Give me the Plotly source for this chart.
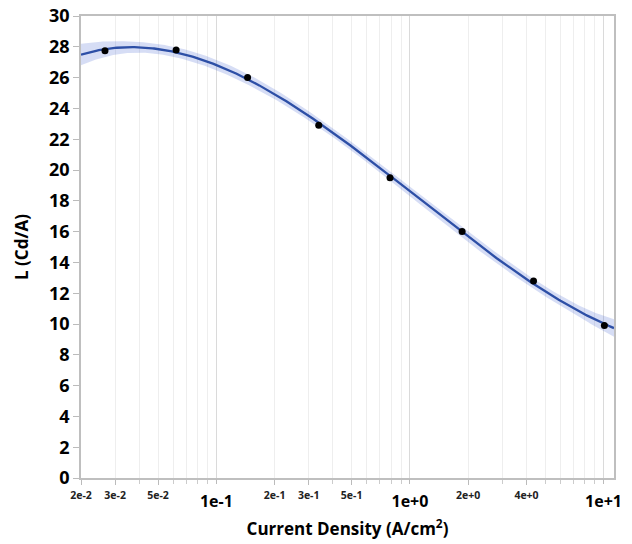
import numpy as np
import plotly.graph_objects as go

# Data
current_density = [0.0266, 0.062, 0.145, 0.338, 0.789, 1.86, 4.35, 10.1]
efficiency = [27.75, 27.8, 26.0, 22.9, 19.5, 16.0, 12.8, 9.9]

minor_tick_vals = [0.02, 0.03, 0.05, 0.2, 0.3, 0.5, 2, 4]
minor_tick_text = ["2e-2", "3e-2", "5e-2", "2e-1", "3e-1", "5e-1", "2e+0", "4e+0"]
major_tick_vals = [0.1, 1, 10]
major_tick_text = ["1e-1", "1e+0", "1e+1"]
y_ticks = list(range(0, 31, 2))

x_range_log = [np.log10(0.02), 1.054]

# cubic fit in log10(x) with 95% confidence band of the mean
lx = np.log10(current_density)
yv = np.array(efficiency)
deg = 3
X = np.vander(lx, deg + 1)
coef, res, rank, sv = np.linalg.lstsq(X, yv, rcond=None)
resid = yv - X @ coef
dof = len(yv) - (deg + 1)
s2 = (resid @ resid) / dof
cov = s2 * np.linalg.inv(X.T @ X)
t_val = 2.776
xs_log = np.linspace(x_range_log[0], x_range_log[1], 300)
Xs = np.vander(xs_log, deg + 1)
fit = Xs @ coef
se = np.sqrt(np.einsum("ij,jk,ik->i", Xs, cov, Xs))
upper = fit + t_val * se
lower = fit - t_val * se
xs = 10 ** xs_log

minor_grid = [m * 10 ** e for e in (-2, -1, 0, 1) for m in range(2, 10)]
minor_grid = [v for v in minor_grid if 0.02 <= v <= 11.3]

fig = go.Figure()
fig.add_trace(go.Scatter(x=xs, y=upper, mode="lines", line=dict(width=0),
                         hoverinfo="skip", showlegend=False))
fig.add_trace(go.Scatter(x=xs, y=lower, mode="lines", line=dict(width=0),
                         fill="tonexty", fillcolor="rgba(70,100,210,0.22)",
                         hoverinfo="skip", showlegend=False))
fig.add_trace(go.Scatter(x=xs, y=fit, mode="lines",
                         line=dict(color="#2D4FA6", width=2.3), showlegend=False))
fig.add_trace(go.Scatter(x=current_density, y=efficiency, mode="markers",
                         marker=dict(color="black", size=7), showlegend=False))
fig.add_trace(go.Scatter(x=[1], y=[-100], xaxis="x2", mode="markers",
                         marker=dict(opacity=0), hoverinfo="skip", showlegend=False))

font_family = "Open Sans"
fig.update_layout(
    width=632, height=544,
    margin=dict(l=81, r=18, t=16, b=66),
    paper_bgcolor="white", plot_bgcolor="white",
    font=dict(family=font_family, color="black"),
    xaxis=dict(
        type="log", range=x_range_log, automargin=False,
        tickvals=minor_tick_vals, ticktext=["<b>%s</b>" % t for t in minor_tick_text],
        tickfont=dict(size=10.5, family=font_family, color="#222"),
        ticks="outside", ticklen=5, tickcolor="#BBBBBB",
        ticklabelstandoff=2,
        showgrid=False, zeroline=False,
        showline=True, linecolor="#BFBFBF", linewidth=1.5, mirror=True,
        minor=dict(tickvals=minor_grid, showgrid=True, gridcolor="#EEEEEE",
                   gridwidth=1, ticks="outside", ticklen=4, tickcolor="#CCCCCC"),
        title=dict(text="<b>Current Density (A/cm<sup>2</sup>)</b>",
                   font=dict(size=17, family=font_family), standoff=22),
    ),
    xaxis2=dict(
        type="log", range=x_range_log, overlaying="x", anchor="y", side="bottom",
        automargin=False,
        tickvals=major_tick_vals, ticktext=["<b>%s</b>" % t for t in major_tick_text],
        tickfont=dict(size=16, family=font_family, color="black"),
        ticks="outside", ticklen=5, tickcolor="#BBBBBB",
        ticklabelstandoff=4,
        showgrid=True, gridcolor="#DADADA", gridwidth=1.2,
        showline=False, zeroline=False,
    ),
    yaxis=dict(
        range=[0, 30], tickvals=y_ticks, automargin=False,
        ticktext=["<b>%d</b>" % v for v in y_ticks],
        tickfont=dict(size=18, family=font_family, color="black"),
        ticks="outside", ticklen=6, tickcolor="#BBBBBB",
        showgrid=False, zeroline=False,
        showline=True, linecolor="#BFBFBF", linewidth=1.5, mirror=True,
        title=dict(text="<b>L (Cd/A)</b>", font=dict(size=17, family=font_family),
                   standoff=16),
    ),
)

fig.write_html("out.html", config={"displayModeBar": False},
               post_script="document.body.style.margin='0';")
